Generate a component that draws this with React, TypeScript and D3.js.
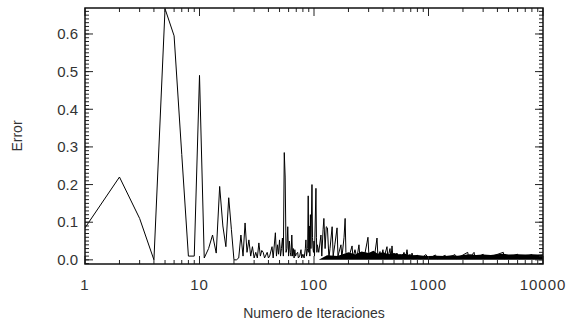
import * as d3 from 'd3';

// Error per iteration (dense tail summarised by peaks/valleys)
const iterations = [
  1, 2, 3, 4, 5, 6, 7, 8, 9, 10, 11, 12, 13, 14, 15, 16, 17, 18, 19, 20,
  21, 22, 23, 24, 25, 26, 27, 28, 29, 30, 31, 32, 33, 34, 35, 36, 37, 39, 40, 41,
  43, 44, 46, 47, 48, 49, 50, 51, 52, 53, 54, 55, 56, 57, 58, 59, 60, 61, 62, 63,
  64, 65, 66, 67, 68, 69, 70, 72, 73, 75, 77, 78, 80, 82, 84, 85, 86, 88, 89, 90,
  91, 92, 93, 94, 96, 97, 98, 99, 100, 101, 104, 105, 106, 107, 110, 115, 117, 120, 122, 125,
  128, 131, 135, 138, 144, 147, 152, 159, 162, 172, 175, 183, 187, 190, 198, 202, 215, 219, 228, 237,
  247, 252, 263, 273, 290, 296, 302, 321, 335, 355, 362, 377, 385, 400, 408, 434, 442, 461, 470, 480,
  490, 531, 545, 564, 580, 611, 630, 649, 665, 689, 700, 718, 740, 800, 850, 950, 1000, 1150, 1200, 1400,
  1450, 1700, 1750, 2200, 2250, 2500, 2550, 3000, 3100, 4500, 4600, 6000, 6200, 8000, 8200, 10000,
];
const errors = [
  0.085, 0.22, 0.11, 0.0, 0.667, 0.595, 0.28, 0.01, 0.01, 0.49, 0.005, 0.03, 0.066, 0.018, 0.195, 0.09, 0.035, 0.165, 0.08, 0.0,
  0.0, 0.005, 0.066, 0.01, 0.098, 0.02, 0.053, 0.01, 0.035, 0.005, 0.02, 0.005, 0.045, 0.01, 0.025, 0.02, 0.005, 0.02, 0.005, 0.01,
  0.035, 0.005, 0.072, 0.01, 0.04, 0.015, 0.053, 0.01, 0.03, 0.058, 0.01, 0.285, 0.22, 0.02, 0.03, 0.088, 0.01, 0.05, 0.02, 0.01,
  0.066, 0.01, 0.03, 0.005, 0.027, 0.01, 0.015, 0.02, 0.005, 0.01, 0.027, 0.005, 0.015, 0.005, 0.03, 0.053, 0.01, 0.03, 0.17, 0.02,
  0.09, 0.01, 0.12, 0.03, 0.2, 0.06, 0.03, 0.02, 0.05, 0.01, 0.19, 0.06, 0.02, 0.04, 0.02, 0.066, 0.01, 0.08, 0.11, 0.03,
  0.088, 0.085, 0.005, 0.03, 0.088, 0.01, 0.04, 0.085, 0.01, 0.04, 0.005, 0.06, 0.11, 0.02, 0.005, 0.008, 0.037, 0.005, 0.027, 0.005,
  0.04, 0.005, 0.018, 0.003, 0.045, 0.06, 0.01, 0.013, 0.003, 0.058, 0.005, 0.022, 0.004, 0.027, 0.005, 0.035, 0.005, 0.03, 0.003, 0.037,
  0.004, 0.018, 0.003, 0.015, 0.003, 0.02, 0.003, 0.027, 0.003, 0.015, 0.003, 0.018, 0.003, 0.012, 0.003, 0.014, 0.003, 0.013, 0.003, 0.012,
  0.003, 0.014, 0.003, 0.02, 0.003, 0.02, 0.003, 0.015, 0.003, 0.02, 0.003, 0.015, 0.003, 0.014, 0.003, 0.01,
];

// Upper edge of the solid black band where the line oscillates too fast to resolve
const bandIter = [
  110, 130, 160, 200, 230, 260, 300, 330, 360, 400, 450, 500, 560, 620, 700, 800, 900, 1000,
  1200, 1400, 1600, 1800, 2000, 2300, 2600, 3000, 3500, 4000, 4500, 5000, 6000, 7000, 8000, 9000, 10000,
];
const bandTop = [
  0.0, 0.012, 0.01, 0.02, 0.014, 0.022, 0.018, 0.024, 0.016, 0.02, 0.015, 0.018, 0.014, 0.016, 0.012, 0.013, 0.011, 0.01,
  0.011, 0.01, 0.012, 0.011, 0.013, 0.015, 0.013, 0.014, 0.013, 0.015, 0.016, 0.014, 0.015, 0.014, 0.015, 0.014, 0.015,
];

const xTickValues = [1, 10, 100, 1000, 10000];
const yTickValues = [0.0, 0.1, 0.2, 0.3, 0.4, 0.5, 0.6];

export default function App() {
  const width = 573;
  const height = 324;
  const margin = { top: 8, right: 30, bottom: 60, left: 85 };
  const innerW = width - margin.left - margin.right;
  const innerH = height - margin.top - margin.bottom;

  const x = d3.scaleLog().domain([1, 10000]).range([0, innerW]);
  const y = d3.scaleLinear().domain([-0.011, 0.669]).range([innerH, 0]);

  const points = iterations.map((n, i) => [n, errors[i]] as [number, number]);
  const line = d3.line<[number, number]>()
    .x((d) => x(d[0]))
    .y((d) => y(d[1]));

  const band = bandIter.map((n, i) => [n, bandTop[i]] as [number, number]);
  const area = d3.area<[number, number]>()
    .x((d) => x(d[0]))
    .y0(y(0))
    .y1((d) => y(d[1]));

  // log minors 2..9 in each decade
  const xMinor: number[] = [];
  for (let e = 0; e < 4; e++) {
    for (let k = 2; k <= 9; k++) xMinor.push(k * Math.pow(10, e));
  }
  const yMinor = d3.range(-1, 67).map((i) => i / 100);

  const textColor = '#333';
  const font = '"Liberation Sans", Arial, sans-serif';

  return (
    <svg width={width} height={height} style={{ position: 'absolute', left: 0, top: 0, background: '#fff' }}>
      <g transform={`translate(${margin.left},${margin.top})`}>
        <defs>
          <clipPath id="plot-clip">
            <rect width={innerW} height={innerH} />
          </clipPath>
        </defs>

        <g clipPath="url(#plot-clip)">
          <path d={area(band) ?? ''} fill="#000" />
          <path d={line(points) ?? ''} fill="none" stroke="#000" strokeWidth={1} strokeLinejoin="miter" />
        </g>

        {/* y ticks, left and right, pointing inward */}
        {yMinor.map((v) => (
          <g key={`ym${v}`} stroke="#222" strokeWidth={1}>
            <line x1={0} x2={4} y1={y(v)} y2={y(v)} />
            <line x1={innerW} x2={innerW - 4} y1={y(v)} y2={y(v)} />
          </g>
        ))}
        {yTickValues.map((v) => (
          <g key={`y${v}`}>
            <line x1={0} x2={8} y1={y(v)} y2={y(v)} stroke="#222" />
            <line x1={innerW} x2={innerW - 8} y1={y(v)} y2={y(v)} stroke="#222" />
            <text x={-7} y={y(v)} dy="0.35em" textAnchor="end" fontSize={15} fontFamily={font} fill={textColor}>
              {d3.format('.1f')(v)}
            </text>
          </g>
        ))}

        {/* x ticks, bottom and top */}
        {xMinor.map((v) => (
          <g key={`xm${v}`} stroke="#222">
            <line x1={x(v)} x2={x(v)} y1={innerH} y2={innerH - 4} />
            <line x1={x(v)} x2={x(v)} y1={0} y2={4} />
          </g>
        ))}
        {xTickValues.map((v) => (
          <g key={`x${v}`}>
            <line x1={x(v)} x2={x(v)} y1={innerH} y2={innerH - 8} stroke="#222" />
            <line x1={x(v)} x2={x(v)} y1={0} y2={8} stroke="#222" />
            <text x={x(v)} y={innerH + 26} textAnchor="middle" fontSize={15} letterSpacing={1} fontFamily={font} fill={textColor}>
              {v}
            </text>
          </g>
        ))}

        <rect x={0} y={0} width={innerW} height={innerH} fill="none" stroke="#111" strokeWidth={1.5} />

        <text x={innerW / 2} y={innerH + 54} textAnchor="middle" fontSize={14} fontFamily={font} fill={textColor}>
          Numero de Iteraciones
        </text>
        <text
          transform={`translate(${-63},${innerH / 2}) rotate(-90)`}
          textAnchor="middle"
          fontSize={14}
          fontFamily={font}
          fill={textColor}
        >
          Error
        </text>
      </g>
    </svg>
  );
}
